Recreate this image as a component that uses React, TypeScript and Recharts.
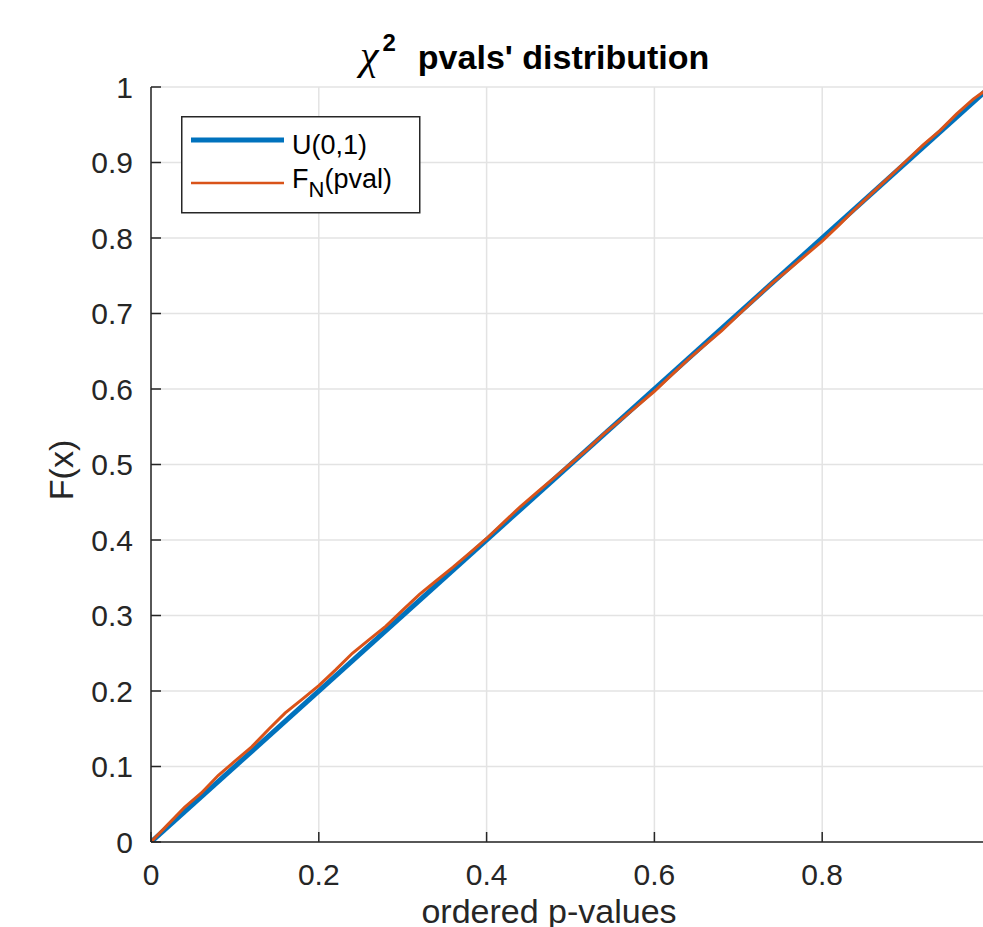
import { CartesianGrid, Legend, Line, LineChart, XAxis, YAxis } from "recharts";

const pvals = [
  0, 0.02, 0.04, 0.06, 0.08, 0.1, 0.12, 0.14, 0.16, 0.18, 0.2, 0.22, 0.24, 0.26, 0.28, 0.3, 0.32,
  0.34, 0.36, 0.38, 0.4, 0.42, 0.44, 0.46, 0.48, 0.5, 0.52, 0.54, 0.56, 0.58, 0.6, 0.62, 0.64, 0.66,
  0.68, 0.7, 0.72, 0.74, 0.76, 0.78, 0.8, 0.82, 0.84, 0.86, 0.88, 0.9, 0.92, 0.94, 0.96, 0.98, 1,
];
const ecdf = [
  0, 0.023, 0.046, 0.065, 0.088, 0.107, 0.126, 0.149, 0.171, 0.189, 0.207, 0.228, 0.25, 0.268, 0.286,
  0.307, 0.328, 0.346, 0.364, 0.383, 0.402, 0.423, 0.444, 0.463, 0.482, 0.501, 0.52, 0.541, 0.559,
  0.578, 0.597, 0.618, 0.639, 0.658, 0.677, 0.698, 0.719, 0.74, 0.758, 0.777, 0.796, 0.817, 0.839,
  0.86, 0.881, 0.902, 0.923, 0.942, 0.964, 0.984, 1,
];

// U(0,1) reference cdf
const uniformX = [0, 1];
const uniformY = [0, 1];

const xTicks = [0, 0.2, 0.4, 0.6, 0.8, 1];
const yTicks = [0, 0.1, 0.2, 0.3, 0.4, 0.5, 0.6, 0.7, 0.8, 0.9, 1];

const seriesNames = ["U(0,1)", "F_N(pval)"];

const BLUE = "#0072BD";
const ORANGE = "#D95319";
const AXIS = "#262626";
const FONT = "'Liberation Sans', Arial, Helvetica, sans-serif";

const uniformData = uniformX.map((x, i) => ({ x, y: uniformY[i] }));
const ecdfData = pvals.map((x, i) => ({ x, y: ecdf[i] }));

const fmt = (v: number) => String(Number(v.toFixed(2)));

function YTick(props: any) {
  const { x, y, payload } = props;
  return (
    <g>
      <line x1={x} x2={x + 10} y1={y} y2={y} stroke={AXIS} strokeWidth={1.5} />
      <text x={x - 18} y={y} dy={10.5} textAnchor="end" fontSize={30} fill={AXIS} fontFamily={FONT}>
        {fmt(payload.value)}
      </text>
    </g>
  );
}

function XTick(props: any) {
  const { x, y, payload } = props;
  return (
    <g>
      <line x1={x} x2={x} y1={y} y2={y - 10} stroke={AXIS} strokeWidth={1.5} />
      <text x={x} y={y + 43} textAnchor="middle" fontSize={30} fill={AXIS} fontFamily={FONT}>
        {fmt(payload.value)}
      </text>
    </g>
  );
}

function LegendBox() {
  return (
    <svg width={240} height={98} style={{ display: "block" }}>
      <rect x={0.75} y={0.75} width={238} height={96} fill="#fff" stroke={AXIS} strokeWidth={1.5} />
      <line x1={10} x2={103} y1={24} y2={24} stroke={BLUE} strokeWidth={5} />
      <text x={111} y={38} fontSize={27} fill="#000" fontFamily={FONT}>
        {seriesNames[0]}
      </text>
      <line x1={10} x2={103} y1={67} y2={67} stroke={ORANGE} strokeWidth={2.5} />
      <text x={111} y={72} fontSize={27} fill="#000" fontFamily={FONT}>
        F<tspan fontSize={22} dy={9}>N</tspan>
        <tspan dy={-9}>(pval)</tspan>
      </text>
    </svg>
  );
}

export default function App() {
  return (
    <div
      style={{
        position: "absolute",
        left: 0,
        top: 0,
        width: 983,
        height: 927,
        overflow: "hidden",
        background: "#fff",
      }}
    >
      <LineChart width={1040} height={1000} margin={{ top: 87, right: 50, left: 0, bottom: 98 }}>
        <CartesianGrid stroke="#e3e3e3" strokeWidth={1.5} />
        <XAxis
          type="number"
          dataKey="x"
          domain={[0, 1]}
          ticks={xTicks}
          height={60}
          tickSize={0}
          tickMargin={0}
          tickLine={false}
          tick={<XTick />}
          axisLine={{ stroke: AXIS, strokeWidth: 1.5 }}
          allowDataOverflow
        />
        <YAxis
          type="number"
          domain={[0, 1]}
          ticks={yTicks}
          width={151}
          tickSize={0}
          tickMargin={0}
          tickLine={false}
          tick={<YTick />}
          axisLine={{ stroke: AXIS, strokeWidth: 1.5 }}
          allowDataOverflow
        />
        <Legend
          layout="vertical"
          align="center"
          verticalAlign="middle"
          content={() => <LegendBox />}
          wrapperStyle={{ position: "absolute", left: 181, top: 116, width: 240, height: 98 }}
        />
        <Line
          data={uniformData}
          dataKey="y"
          name={seriesNames[0]}
          type="linear"
          stroke={BLUE}
          strokeWidth={5}
          dot={false}
          isAnimationActive={false}
        />
        <Line
          data={ecdfData}
          dataKey="y"
          name={seriesNames[1]}
          type="linear"
          stroke={ORANGE}
          strokeWidth={3}
          dot={false}
          isAnimationActive={false}
        />
      </LineChart>
      <svg
        width={983}
        height={927}
        style={{ position: "absolute", left: 0, top: 0, pointerEvents: "none" }}
      >
        <text x={360} y={69} fontSize={34} fontWeight="bold" fill="#000" fontFamily={FONT}>
          <tspan fontFamily="'Liberation Serif', 'Times New Roman', serif" fontStyle="italic" fontWeight="normal" fontSize={42}>
            χ
          </tspan>
          <tspan fontSize={24} dy={-18} dx={4}>2</tspan>
          <tspan dy={18} dx={22}>{"pvals' distribution"}</tspan>
        </text>
        <text x={549} y={923} textAnchor="middle" fontSize={34} fill={AXIS} fontFamily={FONT}>
          ordered p-values
        </text>
        <text
          x={0}
          y={0}
          transform="translate(73 470) rotate(-90)"
          textAnchor="middle"
          fontSize={34}
          fill={AXIS}
          fontFamily={FONT}
        >
          F(x)
        </text>
      </svg>
    </div>
  );
}
